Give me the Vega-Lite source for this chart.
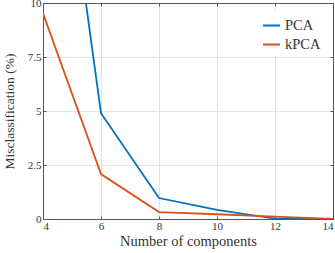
{
  "$schema": "https://vega.github.io/schema/vega-lite/v6.json",
  "width": 290,
  "height": 216,
  "autosize": {"type": "none"},
  "padding": {"left": 43, "top": 3, "right": 2, "bottom": 34},
  "background": "white",
  "config": {
    "font": "Liberation Serif",
    "view": {"stroke": "#555555", "strokeWidth": 1},
    "axis": {
      "labelFont": "Liberation Serif",
      "titleFont": "Liberation Serif",
      "labelFontSize": 11,
      "titleFontSize": 13.5,
      "titleFontWeight": "normal",
      "labelColor": "#333333",
      "titleColor": "#333333",
      "domainColor": "#555555",
      "tickColor": "#555555",
      "tickSize": -3,
      "gridColor": "#e3e3e3",
      "gridWidth": 1
    }
  },
  "data": {
    "values": [
      {"n": 4, "v": 24.5, "s": "PCA"},
      {"n": 6, "v": 4.9, "s": "PCA"},
      {"n": 8, "v": 0.97, "s": "PCA"},
      {"n": 10, "v": 0.42, "s": "PCA"},
      {"n": 12, "v": 0.02, "s": "PCA"},
      {"n": 14, "v": 0.0, "s": "PCA"},
      {"n": 4, "v": 9.52, "s": "kPCA"},
      {"n": 6, "v": 2.08, "s": "kPCA"},
      {"n": 8, "v": 0.32, "s": "kPCA"},
      {"n": 10, "v": 0.22, "s": "kPCA"},
      {"n": 12, "v": 0.11, "s": "kPCA"},
      {"n": 14, "v": 0.0, "s": "kPCA"}
    ]
  },
  "layer": [
    {
      "mark": {"type": "line", "clip": true, "strokeWidth": 1.8},
      "encoding": {
        "x": {
          "field": "n", "type": "quantitative",
          "scale": {"domain": [4, 14], "nice": false, "zero": false},
          "axis": {"values": [4, 6, 8, 10, 12, 14], "format": "d", "title": "Number of components", "titleFontSize": 14.5, "labelPadding": 4, "titlePadding": 3}
        },
        "y": {
          "field": "v", "type": "quantitative",
          "scale": {"domain": [0, 10], "nice": false},
          "axis": {"values": [0, 2.5, 5, 7.5, 10], "format": ".1~f", "title": "Misclassification (%)", "labelPadding": 5, "titlePadding": 11}
        },
        "color": {
          "field": "s", "type": "nominal",
          "scale": {"domain": ["PCA", "kPCA"], "range": ["#0072BD", "#D95319"]},
          "legend": {
            "title": null,
            "orient": "none",
            "legendX": 214,
            "legendY": 8,
            "symbolType": "stroke",
            "symbolSize": 289,
            "symbolStrokeWidth": 2,
            "labelFont": "Liberation Serif",
            "labelFontSize": 14.5,
            "labelColor": "#333333",
            "fillColor": "white",
            "padding": 5,
            "rowPadding": 3,
            "labelOffset": 4
          }
        }
      }
    },
    {
      "mark": {"type": "line", "opacity": 0, "clip": true},
      "encoding": {
        "x": {
          "field": "n", "type": "quantitative",
          "axis": {"orient": "top", "values": [4, 6, 8, 10, 12, 14], "labels": false, "title": null, "grid": false}
        },
        "y": {
          "field": "v", "type": "quantitative",
          "axis": {"orient": "right", "values": [0, 2.5, 5, 7.5, 10], "labels": false, "title": null, "grid": false}
        },
        "detail": {"field": "s"}
      }
    }
  ],
  "resolve": {"axis": {"x": "independent", "y": "independent"}}
}
